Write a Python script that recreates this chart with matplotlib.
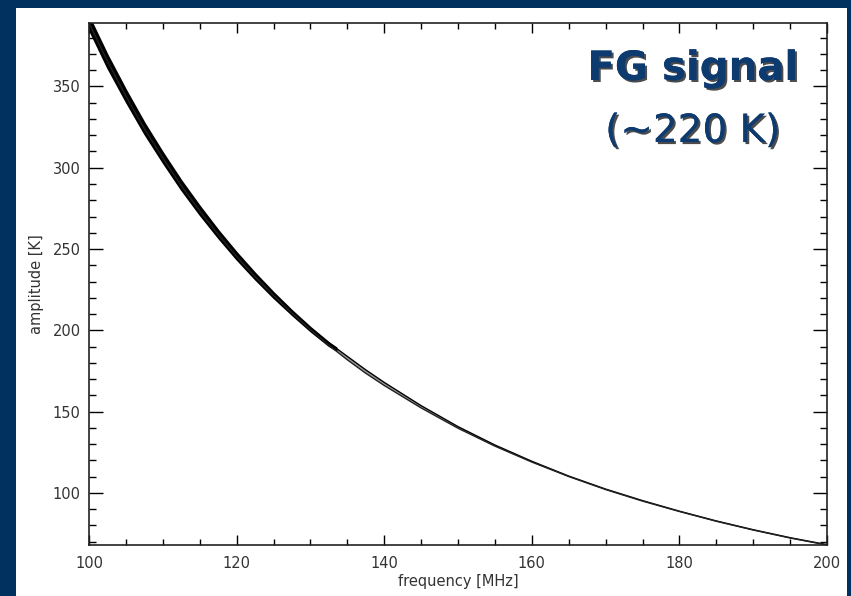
import matplotlib.pyplot as plt
from matplotlib.patches import Rectangle
from matplotlib.ticker import MultipleLocator
import matplotlib.patheffects as pe

SLIDE_BLUE = "#01325f"
TITLE_BLUE = "#0d3b70"

# foreground brightness temperature vs frequency
freq = [100, 102.5, 105, 107.5, 110, 112.5, 115, 117.5, 120, 122.5, 125, 127.5,
        130, 132.5, 135, 137.5, 140, 145, 150, 155, 160, 165, 170, 175, 180,
        185, 190, 195, 200]
amp_a = [389, 365.5, 344.5, 324.5, 306.5, 289.5, 274, 259.5, 246, 233.5, 222, 211.3,
         201.2, 192.3, 184.0, 175.7, 168.0, 153.7, 140.8, 129.5, 119.5, 110.4, 102.4,
         95.3, 88.8, 82.8, 77.4, 72.5, 68.2]
amp_b = [389, 365.5, 344, 324, 306, 289, 273.5, 259, 245.5, 233, 221.5, 210.6,
         200.4, 190.8, 181.9, 173.6, 166.1, 152.3, 139.8, 128.8, 119.0, 110.1, 102.1,
         95.0, 88.6, 82.6, 77.2, 72.3, 68.0]

# spread of the model bundle at the low-frequency end
band_freq = [100, 102.5, 105, 107.5, 110, 112.5, 115, 117.5, 120, 122.5, 125,
             127.5, 130, 132.5, 133.5]
band_hi = [393, 369.3, 347.8, 327.6, 309.3, 292.1, 276.4, 261.6, 247.9, 235.2, 223.3,
           212.2, 201.9, 192.5, 189.4]
band_lo = [385, 361.5, 340.7, 321.0, 303.3, 286.5, 271.2, 257.0, 243.7, 231.5, 220.1,
           209.6, 199.6, 190.5, 187.8]

xticks = [100, 120, 140, 160, 180, 200]
yticks = [100, 150, 200, 250, 300, 350]

fig = plt.figure(figsize=(8.51, 5.96), dpi=100)
fig.patch.set_facecolor(SLIDE_BLUE)
fig.patches.append(Rectangle((16 / 851, 0), 831 / 851, 588 / 596,
                             transform=fig.transFigure, facecolor="white",
                             edgecolor="none", zorder=-1))

ax = fig.add_axes([89 / 851, 51 / 596, 738 / 851, 522 / 596])
ax.set_zorder(2)
ax.set_facecolor("white")

ax.fill_between(freq, amp_b, amp_a, color="#9a9a9a", lw=0)
ax.plot(freq, amp_a, color="black", lw=1.0)
ax.plot(freq, amp_b, color="#222222", lw=1.0)
ax.fill_between(band_freq, band_lo, band_hi, color="black", lw=1.2)

ax.set_xlim(100, 200)
ax.set_ylim(68, 389)
ax.set_xticks(xticks)
ax.set_yticks(yticks)
ax.xaxis.set_minor_locator(MultipleLocator(5))
ax.yaxis.set_minor_locator(MultipleLocator(10))
ax.tick_params(which="both", direction="in", top=True, right=True, color="black",
               width=1.0, labelsize=10.5, labelcolor="#333333")
ax.tick_params(axis="x", which="major", length=7.5, pad=8)
ax.tick_params(axis="x", which="minor", length=4.3)
ax.tick_params(axis="y", which="major", length=10, pad=6)
ax.tick_params(axis="y", which="minor", length=5)
for sp in ax.spines.values():
    sp.set_linewidth(1.2)
    sp.set_color("#222222")

ax.set_xlabel("frequency [MHz]", fontsize=10.5, color="#333333", labelpad=2)
ax.set_ylabel("amplitude [K]", fontsize=10.5, color="#333333", labelpad=6)

shadow = pe.withSimplePatchShadow(offset=(1.5, -1.5), shadow_rgbFace="black", alpha=0.7)
ax.text(0.818, 0.891, "FG signal", transform=ax.transAxes, ha="center",
        va="baseline", fontsize=29, fontweight="bold", color=TITLE_BLUE,
        path_effects=[shadow, pe.Normal()])
ax.text(0.818, 0.772, "(~220 K)", transform=ax.transAxes, ha="center",
        va="baseline", fontsize=28, color=TITLE_BLUE,
        path_effects=[shadow, pe.Normal()])

fig.savefig("out.png", dpi=100, facecolor=fig.get_facecolor())
